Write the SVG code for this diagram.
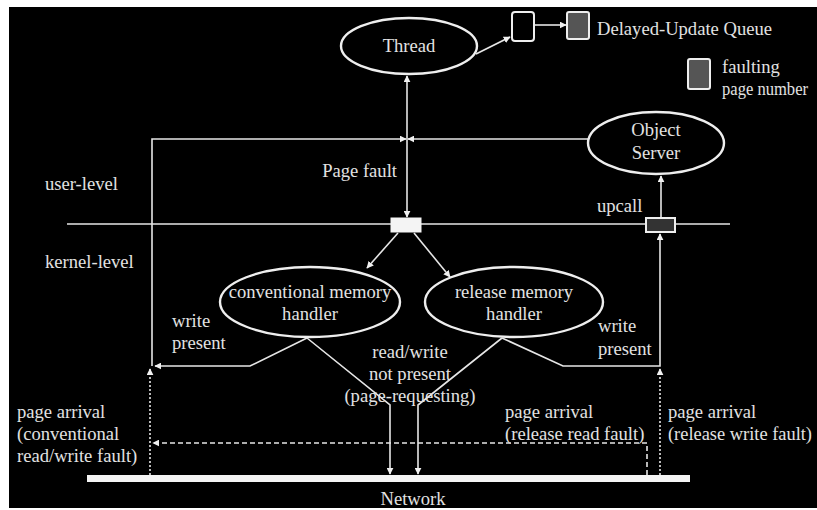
<svg xmlns="http://www.w3.org/2000/svg" width="817" height="510" viewBox="0 0 817 510">
<defs>
<style>
.t{font-family:"Liberation Serif","Times New Roman",serif;font-size:18.6px;fill:#e2e2e2}
.m{text-anchor:middle}
.ln{fill:none;stroke:#e6e6e6;stroke-width:1.6}
.el{fill:#000;stroke:#eeeeee;stroke-width:2.4}
.dash{stroke-dasharray:5 3}
.dot{stroke-dasharray:2 2}
</style>
<marker id="ah" viewBox="0 0 10 10" refX="9" refY="5" markerWidth="7" markerHeight="7" markerUnits="userSpaceOnUse" orient="auto">
<path d="M0,0 L10,5 L0,10 z" fill="#f0f0f0"/>
</marker>
<marker id="ahs" viewBox="0 0 10 10" refX="1" refY="5" markerWidth="7" markerHeight="7" markerUnits="userSpaceOnUse" orient="auto">
<path d="M10,0 L0,5 L10,10 z" fill="#f0f0f0"/>
</marker>
</defs>
<rect x="0" y="0" width="817" height="510" fill="#fff"/>
<rect x="9" y="7" width="808" height="501" fill="#000"/>

<g id="connectors">
<line class="ln" x1="67" y1="224" x2="730" y2="224" stroke-width="2.2"/>
<line class="ln" x1="476" y1="54" x2="510" y2="37" marker-end="url(#ah)"/>
<line class="ln" x1="534" y1="25" x2="566" y2="25" marker-end="url(#ah)"/>
<line class="ln" x1="407" y1="76" x2="407" y2="217" marker-start="url(#ahs)" marker-end="url(#ah)"/>
<polyline class="ln" points="152,366 152,139 406,139" marker-end="url(#ah)"/>
<polyline class="ln" points="588,139 408,139" marker-end="url(#ah)"/>
<line class="ln" x1="398" y1="233" x2="367" y2="268" marker-end="url(#ah)"/>
<line class="ln" x1="414" y1="233" x2="450" y2="277" marker-end="url(#ah)"/>
<polyline class="ln" points="307,338 250,366 155,366" marker-end="url(#ah)"/>
<polyline class="ln" points="307,338 390,405 390,474" marker-end="url(#ah)"/>
<polyline class="ln" points="502,338 418,405 418,474" marker-end="url(#ah)"/>
<polyline class="ln" points="502,338 563,366 660,366 660,234" marker-end="url(#ah)"/>
<line class="ln" x1="661" y1="218" x2="661" y2="176" marker-end="url(#ah)"/>
<line class="ln dot" x1="150" y1="475" x2="150" y2="369" marker-end="url(#ah)"/>
<line class="ln dot" x1="660" y1="475" x2="660" y2="369" marker-end="url(#ah)"/>
<polyline class="ln dash" points="647,475 647,443 153,443" marker-end="url(#ah)"/>
</g>

<g id="thread">
<ellipse class="el" cx="409" cy="46" rx="68" ry="28"/>
<text class="t m" x="409" y="52">Thread</text>
</g>
<g id="queue-slot">
<rect x="512" y="12" width="22" height="29" rx="3" fill="#000" stroke="#eee" stroke-width="2"/>
</g>
<g id="queue-page">
<rect x="567" y="12" width="22" height="27" rx="2" fill="#555" stroke="#eee" stroke-width="2"/>
<text class="t" x="597" y="35">Delayed-Update Queue</text>
</g>
<g id="legend">
<rect x="688" y="59" width="22" height="30" rx="2" fill="#555" stroke="#eee" stroke-width="2"/>
<text class="t" x="722" y="73">faulting</text>
<text class="t" x="722" y="95" textLength="86" lengthAdjust="spacingAndGlyphs">page number</text>
</g>
<g id="object-server">
<ellipse class="el" cx="656" cy="143" rx="68" ry="31"/>
<text class="t m" x="656" y="136">Object</text>
<text class="t m" x="656" y="159">Server</text>
</g>
<g id="fault-box">
<rect x="391" y="218" width="30" height="14" fill="#f4f4f4" stroke="#f4f4f4"/>
</g>
<g id="upcall-box">
<rect x="646" y="218" width="29" height="14" fill="#333" stroke="#eee" stroke-width="2"/>
</g>
<g id="conventional-handler">
<ellipse class="el" cx="310" cy="302" rx="90" ry="35"/>
<text class="t m" x="310" y="298">conventional memory</text>
<text class="t m" x="310" y="320">handler</text>
</g>
<g id="release-handler">
<ellipse class="el" cx="514" cy="302" rx="89" ry="35"/>
<text class="t m" x="514" y="298">release memory</text>
<text class="t m" x="514" y="320">handler</text>
</g>
<g id="network">
<rect x="87" y="475" width="603" height="7" fill="#f4f4f4"/>
<text class="t m" x="413" y="505">Network</text>
</g>
<g id="labels">
<text class="t" x="45" y="190">user-level</text>
<text class="t" x="45" y="268">kernel-level</text>
<text class="t" x="397" y="177" text-anchor="end">Page fault</text>
<text class="t" x="597" y="212">upcall</text>
<text class="t" x="172" y="327">write</text>
<text class="t" x="172" y="349">present</text>
<text class="t" x="598" y="332">write</text>
<text class="t" x="598" y="355">present</text>
<text class="t m" x="410" y="358">read/write</text>
<text class="t m" x="410" y="380">not present</text>
<text class="t m" x="410" y="402">(page-requesting)</text>
<text class="t" x="17" y="418">page arrival</text>
<text class="t" x="17" y="440">(conventional</text>
<text class="t" x="17" y="462">read/write fault)</text>
<text class="t" x="505" y="418">page arrival</text>
<text class="t" x="505" y="440">(release read fault)</text>
<text class="t" x="668" y="418">page arrival</text>
<text class="t" x="668" y="440" textLength="144" lengthAdjust="spacingAndGlyphs">(release write fault)</text>
</g>
</svg>
